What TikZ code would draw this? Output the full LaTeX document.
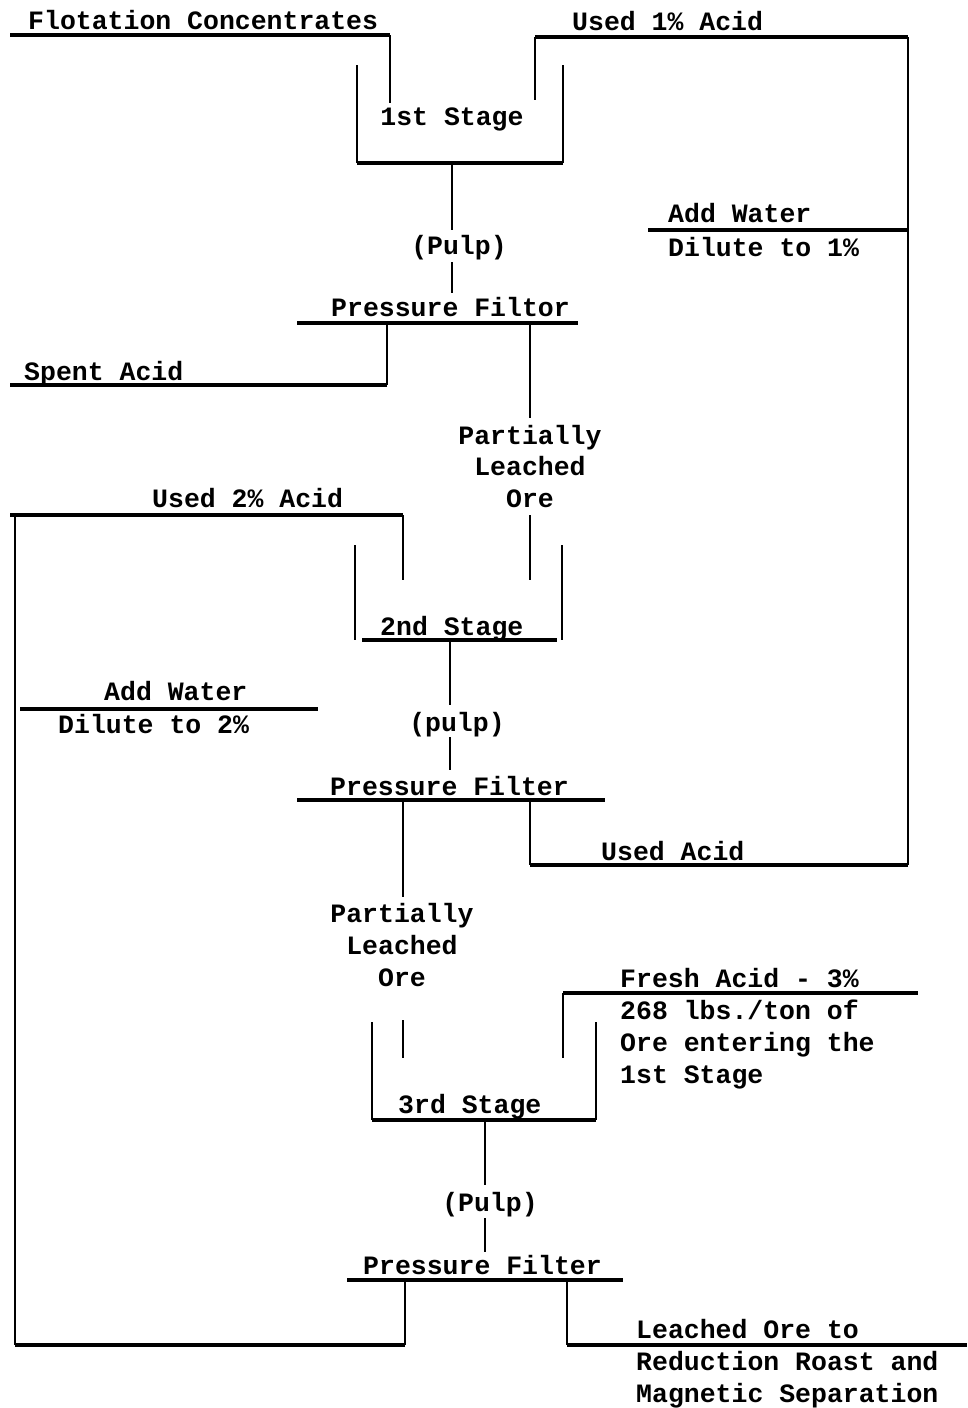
\documentclass[tikz,border=0pt]{standalone}
\usepackage{fontspec}
\setmainfont{Liberation Mono}
\begin{document}
\begin{tikzpicture}[x=1pt,y=-1pt,
  lbl/.style={inner sep=0pt, font=\bfseries\fontsize{26.5}{32}\selectfont},
  lw/.style={lbl,anchor=base west},
  lc/.style={lbl,anchor=base},
  vl/.style={line width=1.9pt},
  hl/.style={line width=3.2pt},
  wall/.style={line width=1.5pt}]
\fill[white] (0,0) rectangle (967,1408);
\useasboundingbox (0,0) rectangle (967,1408);

% ---------- labels ----------
\node[lw] (flot)  at (28,29)   {Flotation Concentrates};
\node[lw] (used1) at (572,30)  {Used 1\% Acid};
\node[lc] (st1)   at (452,125) {1st Stage};
\node[lc] (pulp1) at (459,254) {(Pulp)};
\node[lw] (pf1)   at (331,316) {Pressure Filtor};
\node[lw] (spent) at (24,380)  {Spent Acid};
\node[lw] (aw1)   at (668,222) {Add Water};
\node[lw] (dil1)  at (668,256) {Dilute to 1\%};
\node[lc] (plA1)  at (530,444) {Partially};
\node[lc] (plB1)  at (530,475) {Leached};
\node[lc] (plC1)  at (530,507) {Ore};
\node[lw] (used2) at (152,507) {Used 2\% Acid};
\node[lw] (st2)   at (380,635) {2nd Stage};
\node[lw] (aw2)   at (104,700) {Add Water};
\node[lw] (dil2)  at (58,733)  {Dilute to 2\%};
\node[lc] (pulp2) at (457,731) {(pulp)};
\node[lw] (pf2)   at (330,795) {Pressure Filter};
\node[lw] (usedA) at (601,860) {Used Acid};
\node[lc] (plA2)  at (402,922) {Partially};
\node[lc] (plB2)  at (402,954) {Leached};
\node[lc] (plC2)  at (402,986) {Ore};
\node[lw] (frA)   at (620,987)  {Fresh Acid - 3\%};
\node[lw] (frB)   at (620,1019) {268 lbs./ton of};
\node[lw] (frC)   at (620,1051) {Ore entering the};
\node[lw] (frD)   at (620,1083) {1st Stage};
\node[lw] (st3)   at (398,1113) {3rd Stage};
\node[lc] (pulp3) at (490,1211) {(Pulp)};
\node[lw] (pf3)   at (363,1274) {Pressure Filter};
\node[lw] (loA)   at (636,1338) {Leached Ore to};
\node[lw] (loB)   at (636,1370) {Reduction Roast and};
\node[lw] (loC)   at (636,1402) {Magnetic Separation};

% ---------- named points ----------
\coordinate (fcL) at (10,35);   \coordinate (fcR) at (390,35);  \coordinate (fcIn) at (390,103);
\coordinate (u1In) at (535,100); \coordinate (u1C) at (535,37); \coordinate (u1R) at (908,37);
\coordinate (rB) at (908,865);
\coordinate (t1a) at (357,65);  \coordinate (t1b) at (357,163);
\coordinate (t1c) at (563,65);  \coordinate (t1d) at (563,163);
\coordinate (t1out) at (452,163);
\coordinate (p1a) at (452,230); \coordinate (p1b) at (452,262); \coordinate (p1c) at (452,293);
\coordinate (f1L) at (297,323); \coordinate (f1R) at (578,323);
\coordinate (saT) at (387,323); \coordinate (saB) at (387,385); \coordinate (saL) at (10,385);
\coordinate (o1T) at (530,323); \coordinate (o1a) at (530,418);
\coordinate (o1b) at (530,515); \coordinate (o1In) at (530,580);
\coordinate (aw1L) at (648,230); \coordinate (aw1R) at (908,230);
\coordinate (u2L) at (10,515);  \coordinate (u2R) at (403,515); \coordinate (u2In) at (403,580);
\coordinate (lT) at (15,515);   \coordinate (lB) at (15,1345);
\coordinate (t2a) at (355,545); \coordinate (t2b) at (355,640);
\coordinate (t2c) at (562,545); \coordinate (t2d) at (562,640);
\coordinate (t2out) at (450,640);
\coordinate (aw2L) at (20,709); \coordinate (aw2R) at (318,709);
\coordinate (p2a) at (450,705); \coordinate (p2b) at (450,737); \coordinate (p2c) at (450,770);
\coordinate (f2L) at (297,800); \coordinate (f2R) at (605,800);
\coordinate (o2T) at (403,800); \coordinate (o2a) at (403,897);
\coordinate (o2b) at (403,1020); \coordinate (o2In) at (403,1058);
\coordinate (uaT) at (530,800); \coordinate (uaB) at (530,865);
\coordinate (t3a) at (372,1022); \coordinate (t3b) at (372,1120);
\coordinate (t3c) at (596,1022); \coordinate (t3d) at (596,1120);
\coordinate (faIn) at (563,1058); \coordinate (faC) at (563,993); \coordinate (faR) at (918,993);
\coordinate (t3out) at (485,1120);
\coordinate (p3a) at (485,1185); \coordinate (p3b) at (485,1218); \coordinate (p3c) at (485,1252);
\coordinate (f3L) at (347,1280); \coordinate (f3R) at (623,1280);
\coordinate (rcT) at (405,1280); \coordinate (rcB) at (405,1345);
\coordinate (loT) at (567,1280); \coordinate (loB2) at (567,1345); \coordinate (loR) at (967,1345);

% ---------- 1st stage ----------
\draw[hl] (fcL) -- (fcR);
\draw[vl] (fcR) -- (fcIn);
\draw[hl] (u1C) -- (u1R);
\draw[vl] (u1C) -- (u1In);
\draw[vl] (u1R) -- (rB);
\draw[wall] (t1a) -- (t1b);
\draw[wall] (t1c) -- (t1d);
\draw[hl] (t1b) -- (t1d);
\draw[vl] (t1out) -- (p1a);
\draw[vl] (p1b) -- (p1c);
\draw[hl] (f1L) -- (f1R);
\draw[vl] (saT) -- (saB);
\draw[hl] (saB) -- (saL);
\draw[vl] (o1T) -- (o1a);
\draw[vl] (o1b) -- (o1In);
\draw[hl] (aw1L) -- (aw1R);

% ---------- 2nd stage ----------
\draw[hl] (u2L) -- (u2R);
\draw[vl] (u2R) -- (u2In);
\draw[vl] (lT) -- (lB);
\draw[wall] (t2a) -- (t2b);
\draw[wall] (t2c) -- (t2d);
\draw[hl] ([xshift=7pt]t2b) -- ([xshift=-5pt]t2d);
\draw[hl] (aw2L) -- (aw2R);
\draw[vl] (t2out) -- (p2a);
\draw[vl] (p2b) -- (p2c);
\draw[hl] (f2L) -- (f2R);
\draw[vl] (o2T) -- (o2a);
\draw[vl] (o2b) -- (o2In);
\draw[vl] (uaT) -- (uaB);
\draw[hl] (uaB) -- (rB);

% ---------- 3rd stage ----------
\draw[wall] (t3a) -- (t3b);
\draw[wall] (t3c) -- (t3d);
\draw[hl] (t3b) -- (t3d);
\draw[vl] (faC) -- (faIn);
\draw[hl] (faC) -- (faR);
\draw[vl] (t3out) -- (p3a);
\draw[vl] (p3b) -- (p3c);
\draw[hl] (f3L) -- (f3R);
\draw[vl] (rcT) -- (rcB);
\draw[hl] (rcB) -- (lB);
\draw[vl] (loT) -- (loB2);
\draw[hl] (loB2) -- (loR);
\end{tikzpicture}
\end{document}
